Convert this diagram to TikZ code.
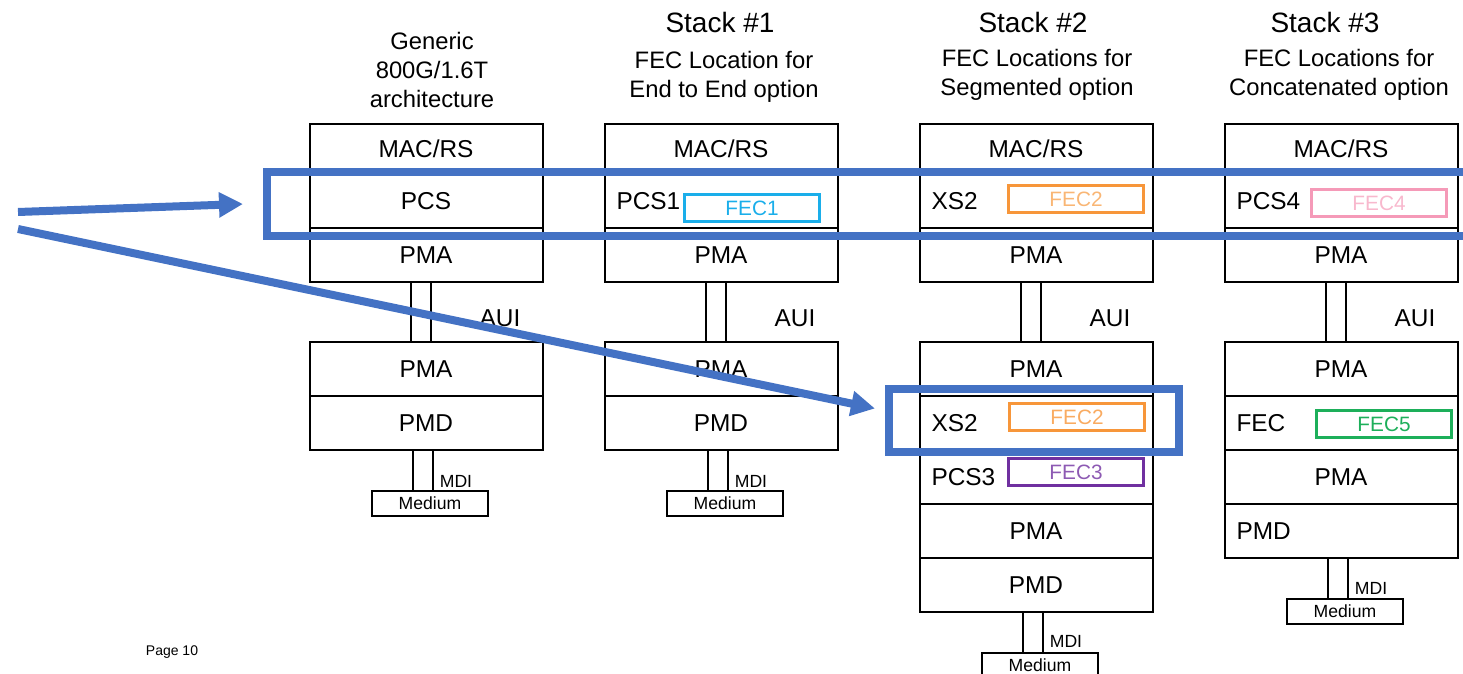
\documentclass[tikz,border=0pt]{standalone}
\usepackage{fontspec}
\setmainfont{Liberation Sans}
\usetikzlibrary{arrows.meta,positioning}
\usepackage{xcolor}
\definecolor{mblue}{HTML}{4472C4}
\definecolor{fcyan}{HTML}{1AAEEA}
\definecolor{forange}{HTML}{F7963A}
\definecolor{fpurple}{HTML}{7030A0}
\definecolor{fpink}{HTML}{F59AB8}
\definecolor{fgreen}{HTML}{1DAF5A}
\tikzstyle{l1}=[line width=1pt]
\tikzstyle{layer}=[draw, l1, minimum width=116.5pt, minimum height=27pt, inner sep=0pt, font=\fontsize{12.2}{14}\selectfont]
\tikzstyle{layerl}=[layer, text width=104.5pt, inner xsep=6pt, align=left]
\tikzstyle{fec}=[draw, line width=1.5pt, minimum width=67.5pt, minimum height=13.5pt, inner sep=0pt, font=\fontsize{10.4}{12}\selectfont]
\tikzstyle{link}=[draw, l1, minimum width=10pt, inner sep=0pt]
\tikzstyle{medium}=[draw, l1, minimum width=58pt, minimum height=12.5pt, inner sep=0pt, font=\fontsize{8.8}{10}\selectfont]
\tikzstyle{small}=[font=\fontsize{8.8}{10}\selectfont]
\tikzstyle{title}=[font=\fontsize{14}{17}\selectfont]
\tikzstyle{sub}=[align=center, font=\fontsize{11.9}{14.4}\selectfont]
\tikzstyle{hl}=[draw=mblue, line width=4pt, inner sep=0pt]
\tikzstyle{pointer}=[mblue, line width=4pt, -{Triangle[length=12pt,width=12pt]}]

\begin{document}
\begin{tikzpicture}[x=0.5pt, y=-0.5pt]
    \useasboundingbox (0,0) rectangle (1463,674);
    \clip (0,0) rectangle (1463,674);

    % headers
    \node[sub] (h0) at (432,70) {Generic\\800G/1.6T\\architecture};
    \node[title] (t1) at (720,22) {Stack \#1};
    \node[sub] (h1) at (724,77) {FEC Location for\\End to End option};
    \node[title] (t2) at (1033,22) {Stack \#2};
    \node[sub] (h2) at (1037,75) {FEC Locations for\\Segmented option};
    \node[title] (t3) at (1325,22) {Stack \#3};
    \node[sub] (h3) at (1339,75) {FEC Locations for\\Concatenated option};

    % generic
    \begin{scope}[shift={(310,0)}]
        \node[layer, minimum height=25pt] (a-mac) at (116,149) {MAC/RS};
        \node[layer] (a-pcs) at (116,201) {PCS};
        \node[layer] (a-pma) at (116,255) {PMA};
        \node[link, minimum height=30pt] (a-aui) at (111,312) {};
        \node (a-auil) at (190,318) [font=\fontsize{12.2}{14}\selectfont] {AUI};
        \node[layer] (a-pma2) at (116,369) {PMA};
        \node[layer] (a-pmd) at (116,423) {PMD};
        \node[link, minimum height=20.5pt] (a-mdi) at (113,470.5) {};
        \node[small] (a-mdil) at (146,481) {MDI};
        \node[medium] (a-med) at (120,503.5) {Medium};
    \end{scope}

    % stack 1
    \begin{scope}[shift={(605,0)}]
        \node[layer, minimum height=25pt] (b-mac) at (116,149) {MAC/RS};
        \node[layerl] (b-pcs) at (116,201) {PCS1};
        \node[fec, draw=fcyan, text=fcyan] (b-fec) at (147,208) {FEC1};
        \node[layer] (b-pma) at (116,255) {PMA};
        \node[link, minimum height=30pt] (b-aui) at (111,312) {};
        \node (b-auil) at (190,318) [font=\fontsize{12.2}{14}\selectfont] {AUI};
        \node[layer] (b-pma2) at (116,369) {PMA};
        \node[layer] (b-pmd) at (116,423) {PMD};
        \node[link, minimum height=20.5pt] (b-mdi) at (113,470.5) {};
        \node[small] (b-mdil) at (146,481) {MDI};
        \node[medium] (b-med) at (120,503.5) {Medium};
    \end{scope}

    % stack 2
    \begin{scope}[shift={(920,0)}]
        \node[layer, minimum height=25pt] (c-mac) at (116,149) {MAC/RS};
        \node[layerl] (c-xs) at (116,201) {XS2};
        \node[fec, draw=forange, text=forange!70] (c-fec) at (156,199) {FEC2};
        \node[layer] (c-pma) at (116,255) {PMA};
        \node[link, minimum height=30pt] (c-aui) at (111,312) {};
        \node (c-auil) at (190,318) [font=\fontsize{12.2}{14}\selectfont] {AUI};
        \node[layer] (c-pma2) at (116,369) {PMA};
        \node[layerl] (c-xs2) at (116,423) {XS2};
        \node[fec, draw=forange, text=forange!80] (c-fec2) at (157,417) {FEC2};
        \node[layerl] (c-pcs) at (116,477) {PCS3};
        \node[fec, draw=fpurple, text=fpurple!80] (c-fec3) at (156,472) {FEC3};
        \node[layer] (c-pma3) at (116,531) {PMA};
        \node[layer] (c-pmd) at (116,585) {PMD};
        \node[link, minimum height=20.5pt] (c-mdi) at (113,632.5) {};
        \node[small] (c-mdil) at (146,641) {MDI};
        \node[medium] (c-med) at (120,665.5) {Medium};
    \end{scope}

    % stack 3
    \begin{scope}[shift={(1225,0)}]
        \node[layer, minimum height=25pt] (d-mac) at (116,149) {MAC/RS};
        \node[layerl] (d-pcs) at (116,201) {PCS4};
        \node[fec, draw=fpink, text=fpink!70] (d-fec) at (154,203) {FEC4};
        \node[layer] (d-pma) at (116,255) {PMA};
        \node[link, minimum height=30pt] (d-aui) at (111,312) {};
        \node (d-auil) at (190,318) [font=\fontsize{12.2}{14}\selectfont] {AUI};
        \node[layer] (d-pma2) at (116,369) {PMA};
        \node[layerl] (d-fecl) at (116,423) {FEC};
        \node[fec, draw=fgreen, text=fgreen] (d-fec5) at (159,424) {FEC5};
        \node[layer] (d-pma3) at (116,477) {PMA};
        \node[layerl] (d-pmd) at (116,531) {PMD};
        \node[link, minimum height=20.5pt] (d-mdi) at (113,578.5) {};
        \node[small] (d-mdil) at (146,588) {MDI};
        \node[medium] (d-med) at (120,611.5) {Medium};
    \end{scope}

    % highlights and pointers
    \node[hl, minimum width=604pt, minimum height=32pt] (hl1) at (871,204) {};
    \node[hl, minimum width=145pt, minimum height=31.5pt] (hl2) at (1034,420.5) {};
    \coordinate (src1) at (18,212);
    \coordinate (src2) at (18,229);
    \draw[pointer] (src1) -- ([xshift=-10pt]hl1.west);
    \draw[pointer] (src2) -- ([shift={(-5pt,6pt)}]hl2.west);

    \node (page) at (172,652) [font=\fontsize{7}{8}\selectfont] {Page 10};
\end{tikzpicture}
\end{document}
